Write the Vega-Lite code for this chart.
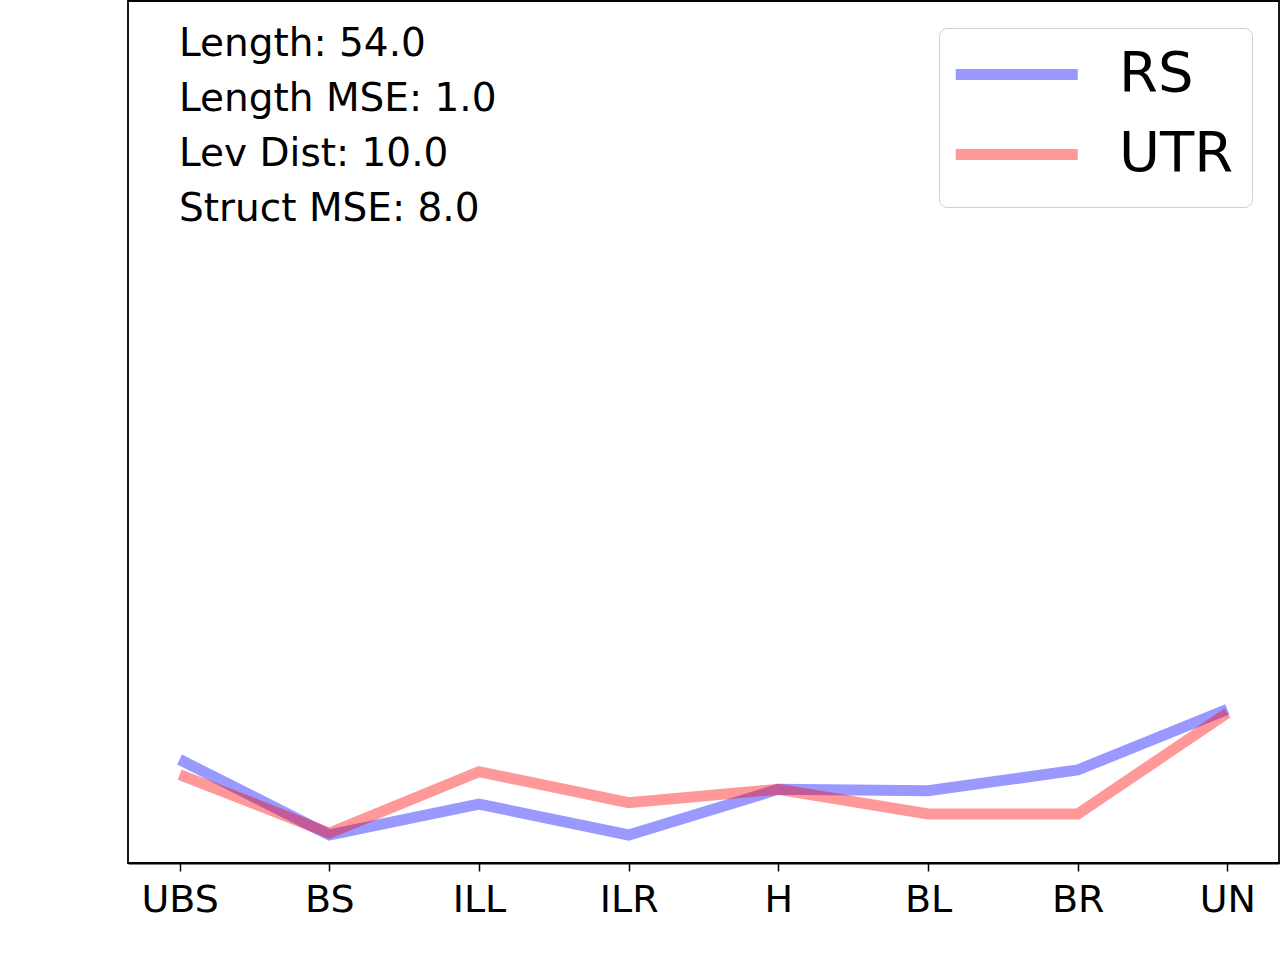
{
  "$schema": "https://vega.github.io/schema/vega-lite/v6.json",
  "width": 1151,
  "height": 862,
  "autosize": {"type": "none"},
  "padding": {"left": 128, "top": 1, "right": 1, "bottom": 97},
  "background": "white",
  "title": {
    "text": ["Length: 54.0", "Length MSE: 1.0", "Lev Dist: 10.0", "Struct MSE: 8.0"],
    "anchor": "start",
    "frame": "group",
    "orient": "top",
    "offset": 0,
    "dx": 51,
    "dy": 228,
    "baseline": "top",
    "lineHeight": 55,
    "font": "DejaVu Sans",
    "fontSize": 39,
    "fontWeight": "normal",
    "color": "black"
  },
  "data": {
    "values": [
      {"pos": "UBS", "series": "RS", "value": 103.5},
      {"pos": "BS", "series": "RS", "value": 28},
      {"pos": "ILL", "series": "RS", "value": 59},
      {"pos": "ILR", "series": "RS", "value": 28},
      {"pos": "H", "series": "RS", "value": 73.7},
      {"pos": "BL", "series": "RS", "value": 72.2},
      {"pos": "BR", "series": "RS", "value": 93},
      {"pos": "UN", "series": "RS", "value": 153.7},
      {"pos": "UBS", "series": "UTR", "value": 88.3},
      {"pos": "BS", "series": "UTR", "value": 30},
      {"pos": "ILL", "series": "UTR", "value": 91.3},
      {"pos": "ILR", "series": "UTR", "value": 60.3},
      {"pos": "H", "series": "UTR", "value": 73.7},
      {"pos": "BL", "series": "UTR", "value": 49},
      {"pos": "BR", "series": "UTR", "value": 49},
      {"pos": "UN", "series": "UTR", "value": 150}
    ]
  },
  "mark": {"type": "line", "strokeWidth": 11, "opacity": 0.4, "strokeCap": "butt", "strokeJoin": "miter"},
  "encoding": {
    "x": {
      "field": "pos",
      "type": "nominal",
      "sort": ["UBS", "BS", "ILL", "ILR", "H", "BL", "BR", "UN"],
      "scale": {"type": "point", "padding": 0.345},
      "axis": {
        "title": null,
        "labelAngle": 0,
        "labelFont": "DejaVu Sans",
        "labelFontSize": 38,
        "labelColor": "black",
        "labelPadding": 10,
        "tickSize": 8,
        "tickWidth": 1.5,
        "tickColor": "black",
        "domainColor": "black",
        "domainWidth": 1.8,
        "grid": false
      }
    },
    "y": {
      "field": "value",
      "type": "quantitative",
      "scale": {"domain": [0, 862], "nice": false, "zero": false},
      "axis": null
    },
    "color": {
      "field": "series",
      "type": "nominal",
      "scale": {"domain": ["RS", "UTR"], "range": ["#0000ff", "#ff0000"]},
      "legend": {
        "title": " ",
        "titleOrient": "bottom",
        "titleFontSize": 2,
        "titlePadding": 4,
        "orient": "none",
        "legendX": 811,
        "legendY": 27,
        "labelFont": "DejaVu Sans",
        "labelFontSize": 56,
        "labelColor": "black",
        "labelLimit": 400,
        "labelOffset": 105.6,
        "symbolType": "M-1.944,0H6.056",
        "symbolSize": 930,
        "symbolStrokeWidth": 11,
        "symbolOpacity": 0.4,
        "padding": 18.4,
        "rowPadding": 24,
        "strokeColor": "#d0d0d0",
        "cornerRadius": 8,
        "fillColor": "white"
      }
    }
  },
  "config": {
    "view": {"stroke": "black", "strokeWidth": 1.8}
  }
}
